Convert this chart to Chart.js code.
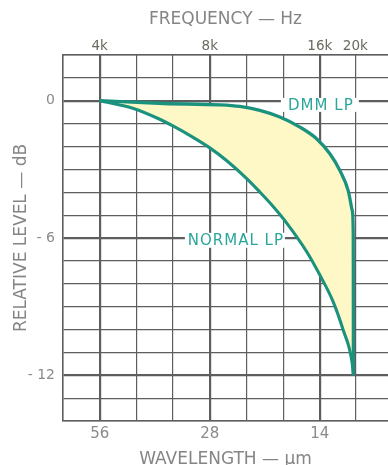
<!DOCTYPE html>
<html><head><meta charset="utf-8">
<script src="https://cdn.jsdelivr.net/npm/chart.js@4"></script>
<style>
html,body{margin:0;padding:0;background:#fff;overflow:hidden;}
#wrap{position:absolute;left:0;top:0;width:388px;height:480px;}
</style></head><body>
<div id="wrap"><canvas id="c"></canvas></div>
<script>
// ---- data ----
const dmmFreq    = [4000, 6000, 8520, 9665, 10964, 12436, 14104, 15672, 17040, 18150, 19123, 19620, 19740, 19750, 19755, 19760];
const dmmLevel   = [0, -0.12, -0.18, -0.25, -0.42, -0.71, -1.15, -1.66, -2.32, -3.05, -3.93, -4.8, -5.8, -7.5, -10, -12];
const normalFreq  = [4000, 4925, 5838, 6324, 7201, 8000, 8888, 10080, 10964, 11921, 12833, 14742, 16000, 17365, 18500, 19577, 19760];
const normalLevel = [0, -0.33, -0.81, -1.09, -1.60, -2.06, -2.61, -3.39, -3.99, -4.62, -5.24, -6.61, -7.62, -8.76, -9.99, -11.39, -12];
const seriesLabels = ['DMM LP', 'NORMAL LP'];
const gridFreqs = [3175, 4000, 5040, 6350, 8000, 10080, 12700, 16000, 20000];
const freqTickValues = [4000, 8000, 16000, 20000];
const freqTickLabels = ['4k', '8k', '16k', '20k'];
const majorFreqs = [4000, 8000, 16000];
const wavelengthTicks = [56, 28, 14];        // µm
const tapeSpeedUmHz = 224000;                // f = v / λ
const levelTicks = [0, -6, -12];
const levelTickLabels = ['0', '- 6', '- 12'];

const GRID = '#5e5e5e';
const TEAL = '#1b927e';
const FONT = 'DejaVu Sans';

const curveLabels = {
  id: 'curveLabels',
  beforeDatasetsDraw(chart) {
    const {ctx, scales: {x, y}} = chart;
    const items = [
      {text: seriesLabels[0], f: 16000, v: -0.18, w: 78, h: 14},
      {text: seriesLabels[1], f: 9370, v: -6.1, w: 100, h: 15}
    ];
    ctx.save();
    ctx.font = '15px "' + FONT + '"';
    try { ctx.letterSpacing = '1px'; } catch (e) {}
    ctx.textAlign = 'center';
    ctx.textBaseline = 'middle';
    for (const it of items) {
      const px = x.getPixelForValue(it.f), py = y.getPixelForValue(it.v);
      ctx.fillStyle = '#fff';
      ctx.fillRect(px - it.w / 2, py - it.h / 2, it.w, it.h);
      ctx.fillStyle = '#2ba69b';
      ctx.fillText(it.text, px + 1, py + 1);
    }
    ctx.restore();
  }
};

const pts = (xs, ys) => xs.map((f, i) => ({x: f, y: ys[i]}));

new Chart(document.getElementById('c'), {
  type: 'line',
  data: {
    datasets: [
      {label: seriesLabels[0], data: pts(dmmFreq, dmmLevel), borderColor: TEAL, borderWidth: 3.3,
       pointRadius: 0, cubicInterpolationMode: 'monotone', fill: false},
      {label: seriesLabels[1], data: pts(normalFreq, normalLevel), borderColor: TEAL, borderWidth: 3.1,
       pointRadius: 0, cubicInterpolationMode: 'monotone', fill: {target: 0}, backgroundColor: '#fdf8c6'}
    ]
  },
  options: {
    responsive: true, maintainAspectRatio: false, animation: false,
    layout: {padding: 0},
    plugins: {legend: {display: false}, tooltip: {enabled: false}},
    scales: {
      x: {
        type: 'logarithmic', position: 'bottom', min: 3175, max: 24570, bounds: 'data',
        afterBuildTicks: s => { s.ticks = gridFreqs.map(v => ({value: v})); },
        afterFit: s => { s.height = 59; },
        ticks: {
          autoSkip: false, maxRotation: 0, minRotation: 0, padding: 4, color: '#8a8a8a',
          font: {family: FONT, size: 15},
          callback: v => {
            const i = wavelengthTicks.findIndex(l => Math.abs(tapeSpeedUmHz / l - v) < 1);
            return i >= 0 ? String(wavelengthTicks[i]) : '';
          }
        },
        grid: {drawTicks: false, color: GRID,
          lineWidth: c => (c.tick && majorFreqs.includes(c.tick.value)) ? 2.2 : 1.2},
        border: {display: true, color: GRID, width: 1.5},
        title: {display: true, text: 'WAVELENGTH — µm', color: '#858585',
          font: {family: FONT, size: 17}, padding: {top: 0, bottom: 10}}
      },
      x2: {
        type: 'logarithmic', position: 'top', min: 3175, max: 24570, bounds: 'data',
        afterBuildTicks: s => { s.ticks = gridFreqs.map(v => ({value: v})); },
        afterFit: s => { s.height = 55; },
        ticks: {
          autoSkip: false, maxRotation: 0, minRotation: 0, padding: 0, color: '#6a6a5e',
          font: {family: FONT, size: 13.5},
          callback: v => {
            const i = freqTickValues.indexOf(v);
            return i >= 0 ? freqTickLabels[i] : '';
          }
        },
        grid: {display: false, drawTicks: false},
        border: {display: true, color: GRID, width: 1.5},
        title: {display: true, text: 'FREQUENCY — Hz', color: '#858585',
          font: {family: FONT, size: 17}, padding: {top: 9, bottom: 0}}
      },
      y: {
        type: 'linear', position: 'left', min: -14, max: 2,
        afterFit: s => { s.width = 63; },
        ticks: {
          stepSize: 1, autoSkip: false, padding: 8, color: '#8a8a8a',
          font: {family: FONT, size: 14},
          callback: v => {
            const i = levelTicks.indexOf(v);
            return i >= 0 ? levelTickLabels[i] : '';
          }
        },
        grid: {drawTicks: false, color: GRID,
          lineWidth: c => (c.tick && levelTicks.includes(c.tick.value)) ? 2.2 : 1.2},
        border: {display: true, color: GRID, width: 1.5},
        title: {display: true, text: 'RELATIVE LEVEL — dB', color: '#858585',
          font: {family: FONT, size: 17}, padding: {top: 11, bottom: 0}}
      }
    }
  },
  plugins: [curveLabels]
});
</script>
</body></html>
